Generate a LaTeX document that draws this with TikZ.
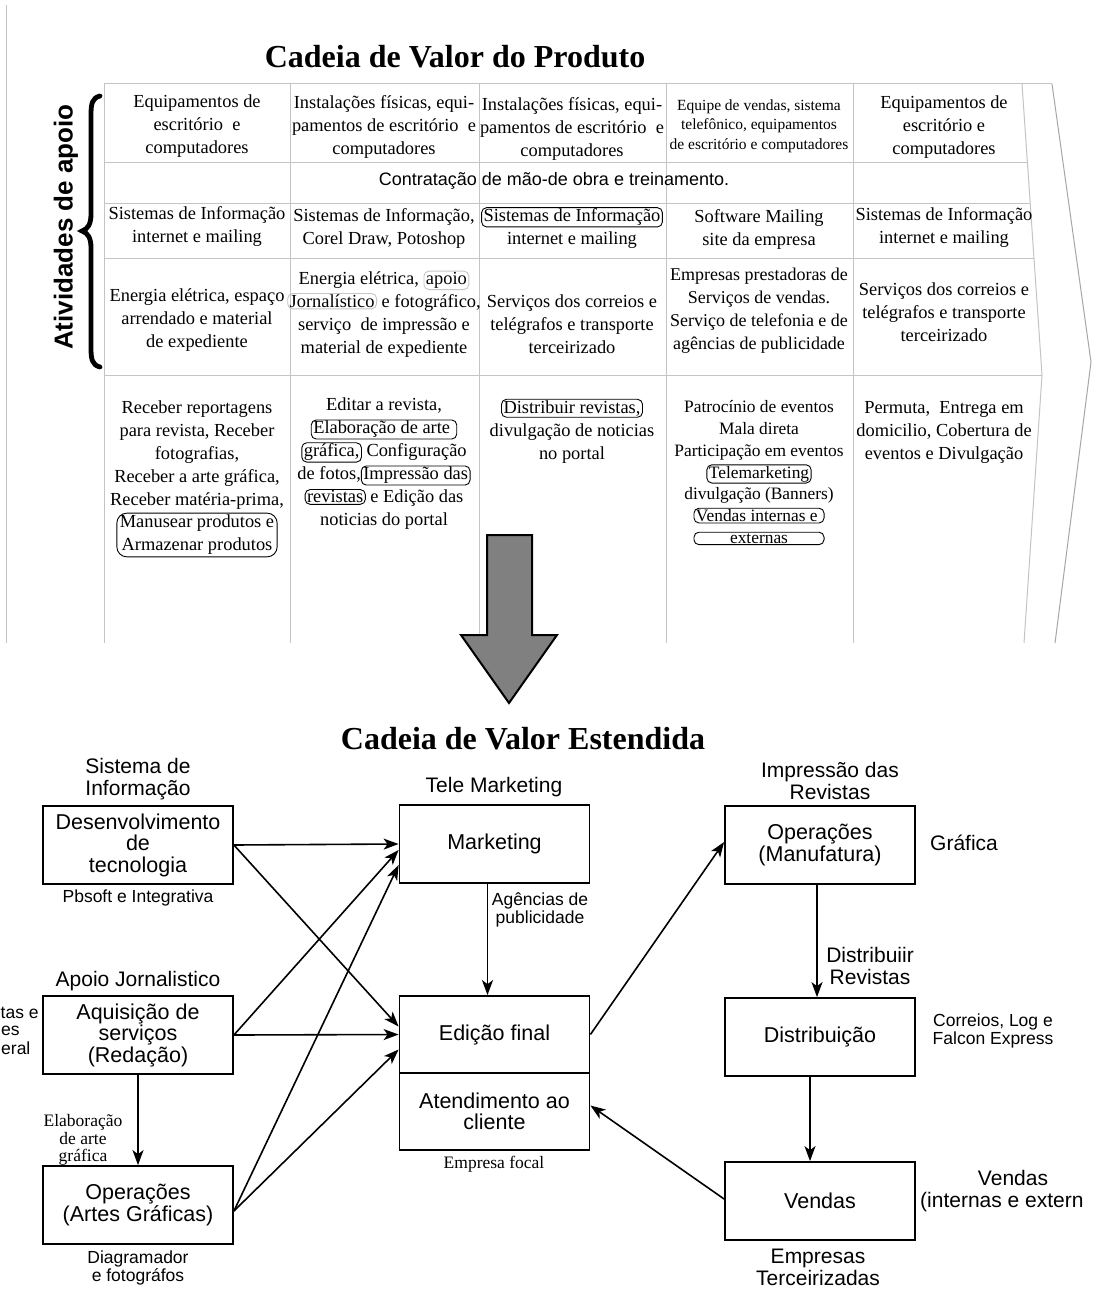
\documentclass[tikz,border=0pt]{standalone}
\usepackage{fontspec}
\setmainfont{Liberation Serif}
\setsansfont{Liberation Sans}
\usetikzlibrary{arrows.meta}
\definecolor{gridc}{RGB}{196,196,196}
\definecolor{bigarr}{RGB}{128,128,128}
\newcommand{\hlb}[2][black]{\tikz[baseline=(hlbx.base)]\node[draw=#1,line width=0.9pt,rounded corners=5pt,inner xsep=2pt,inner ysep=1.2pt,anchor=base,outer sep=0pt](hlbx){#2};}
\tikzset{
  tline/.style={draw=gridc,line width=1pt},
  cell/.style={font=\fontsize{18.4}{23}\selectfont,align=center,inner sep=0pt},
  cellsm/.style={font=\fontsize{15.5}{19.5}\selectfont,align=center,inner sep=0pt},
  cellmd/.style={font=\fontsize{17.4}{21.7}\selectfont,align=center,inner sep=0pt},
  ttl/.style={font=\bfseries\fontsize{32}{36}\selectfont,inner sep=0pt},
  bx/.style={draw,line width=1.8pt,minimum width=190pt,minimum height=78pt,inner sep=2pt,align=center,font=\sffamily\fontsize{21.5}{21.5}\selectfont},
  lbl/.style={align=center,inner sep=0pt,font=\sffamily\fontsize{21}{22}\selectfont},
  sml/.style={align=center,inner sep=0pt,font=\sffamily\fontsize{17.5}{18}\selectfont},
  ser/.style={align=center,inner sep=0pt,font=\fontsize{17.5}{17.5}\selectfont},
  arr/.style={line width=1.6pt,-{Stealth[length=15pt,width=11pt,inset=4pt]}}
}
\begin{document}
\begin{tikzpicture}[x=1pt,y=-1pt]
\useasboundingbox[fill=white] (0,0) rectangle (1092,1300);

% ---------- top table ----------
\node[ttl] (t1) at (455,57) {Cadeia de Valor do Produto};

\draw[tline] (6,5) -- (6,643);
% chevron
\draw[tline] (104,84) -- (1052,84);
\draw[tline] (1022,84) -- (1042,375) -- (1024,643);
\draw[draw=gray!70,line width=1pt] (1052,84) -- (1091,362) -- (1055,643);
\draw[tline] (104,163) -- (1027.4,163);
\draw[tline] (104,203) -- (1030.2,203);
\draw[tline] (104,258) -- (1034,258);
\draw[tline] (104,375) -- (1042,375);
\foreach \cx in {104,290,479,666,853} \draw[tline] (\cx,84) -- (\cx,643);

% brace and side label
\draw[line width=4.8pt,line cap=round] (100,96) .. controls (92,98) and (91,104) .. (91,115) -- (91,214) .. controls (91,224) and (88,229) .. (82,231) .. controls (88,233) and (91,238) .. (91,248) -- (91,348) .. controls (91,359) and (92,365) .. (100,367);
\node[rotate=90,inner sep=0pt,font=\sffamily\bfseries\fontsize{26}{28}\selectfont] (apoio) at (66,227) {Atividades de apoio};

% row 1
\node[cell] (r1c1) at (197,126) {Equipamentos de\\escritório~ e\\computadores};
\node[cell] (r1c2) at (384,127) {Instalações físicas, equi-\\pamentos de escritório~ e\\computadores};
\node[cell] (r1c3) at (572,129) {Instalações físicas, equi-\\pamentos de escritório~ e\\computadores};
\node[cellsm] (r1c4) at (759,126) {Equipe de vendas, sistema\\telefônico, equipamentos\\de escritório e computadores};
\node[cell] (r1c5) at (944,127) {Equipamentos de\\escritório e\\computadores};
% row 2
\node[inner sep=0pt,font=\sffamily\fontsize{18}{20}\selectfont] (r2) at (554,181) {Contratação de mão-de obra e treinamento.};
% row 3
\node[cell] (r3c1) at (197,227) {Sistemas de Informação\\internet e mailing};
\node[cell] (r3c2) at (384,228) {Sistemas de Informação,\\Corel Draw, Potoshop};
\node[cell] (r3c3) at (572,228) {\hlb{Sistemas de Informação}\\internet e mailing};
\node[cell] (r3c4) at (759,229) {Software Mailing\\site da empresa};
\node[cell] (r3c5) at (944,228) {Sistemas de Informação\\internet e mailing};
% row 4
\node[cell] (r4c1) at (197,320) {Energia elétrica, espaço\\arrendado e material\\de expediente};
\node[cell] (r4c2) at (384,314) {Energia elétrica, \hlb[gray!45]{apoio}\\\hlb[gray!45]{Jornalístico} e fotográfico,\\serviço~ de impressão e\\material de expediente};
\node[cell] (r4c3) at (572,324) {Serviços dos correios e\\telégrafos e transporte\\terceirizado};
\node[cell,font=\fontsize{18}{23}\selectfont] (r4c4) at (759,311) {Empresas prestadoras de\\Serviços de vendas.\\Serviço de telefonia e de\\agências de publicidade};
\node[cell] (r4c5) at (944,312) {Serviços dos correios e\\telégrafos e transporte\\terceirizado};
% row 5
\node[cell] (r5c1) at (197,455) {Receber reportagens\\para revista, Receber\\fotografias,\\Receber a arte gráfica,\\Receber matéria-prima,};
\node[cell,draw,line width=0.9pt,rounded corners=10pt,inner xsep=3pt,inner ysep=2pt] (r5c1b) at (197,535) {Manusear produtos e\\Armazenar produtos};
\node[cell] (r5c2) at (384,464) {Editar a revista,\\\hlb{Elaboração de arte~}\\\hlb{gráfica,}~Configuração\\de fotos,\hlb{Impressão das}\\\hlb{revistas}~e Edição das\\noticias do portal};
\node[cell] (r5c3) at (572,431) {\hlb{Distribuir revistas,}\\divulgação de noticias\\no portal};
\node[cellmd] (r5c4) at (759,473) {Patrocínio de eventos\\Mala direta\\Participação em eventos\\\hlb{Telemarketing}\\divulgação (Banners)\\\hlb{Vendas internas e~}\\\hlb{\ooalign{\hfil externas\hfil\cr\phantom{Vendas internas e~}\cr}}};
\node[cell] (r5c5) at (944,432) {Permuta,~ Entrega em\\domicilio, Cobertura de\\eventos e Divulgação};

% big arrow
\draw[fill=bigarr,line width=2pt,line join=miter] (487,535) -- (532,535) -- (532,635) -- (557,635) -- (509,703) -- (461,635) -- (487,635) -- cycle;

% ---------- bottom diagram ----------
\node[ttl] (t2) at (523,739) {Cadeia de Valor Estendida};

\node[bx] (dev) at (138,845) {Desenvolvimento\\de\\tecnologia};
\node[bx] (aqu) at (138,1035) {Aquisição de\\serviços\\(Redação)};
\node[bx] (art) at (138,1205) {Operações\\(Artes Gráficas)};
\node[bx] (mkt) at (494.5,844) {Marketing};
\node[bx,minimum height=77pt] (edi) at (494.5,1034.5) {Edição final};
\node[bx,minimum height=77pt] (ate) at (494.5,1111.5) {Atendimento ao\\cliente};
\node[bx] (opm) at (820,845) {Operações\\(Manufatura)};
\node[bx] (dis) at (820,1037) {Distribuição};
\node[bx] (ven) at (820,1201) {Vendas};

% labels
\node[lbl] (lsi) at (138,779) {Sistema de\\Informação};
\node[sml] (lpb) at (138,898) {Pbsoft e Integrativa};
\node[lbl] (laj) at (138,981) {Apoio Jornalistico};
\node[ser] (lel) at (83,1140) {Elaboração\\de arte\\gráfica};
\node[sml] (ldi) at (138,1268) {Diagramador\\e fotográfos};
\node[sml,anchor=west] (fr1) at (0.5,1013) {tas e};
\node[sml,anchor=west] (fr2) at (1,1031) {es};
\node[sml,anchor=west] (fr3) at (1,1048) {eral};
\node[lbl] (ltm) at (494,787) {Tele Marketing};
\node[sml] (lag) at (540,910) {Agências de\\publicidade};
\node[ser] (lef) at (494,1164) {Empresa focal};
\node[lbl] (lim) at (830,781) {Impressão das\\Revistas};
\node[lbl] (lgr) at (964,843) {Gráfica};
\node[lbl] (ldr) at (870,966) {Distribuiir\\Revistas};
\node[sml] (lco) at (993,1031) {Correios, Log e\\Falcon Express};
\node[lbl] (lve) at (1013,1178) {Vendas};
\node[lbl,anchor=west] (lie) at (920,1202) {(internas e extern};
\node[lbl] (lem) at (818,1267) {Empresas\\Terceirizadas};

% connectors
\draw[arr] (dev.east) -- (mkt.west);
\draw[arr] (dev.east) -- ([yshift=8pt]edi.west);
\draw[arr] (aqu.east) -- ([yshift=-6pt]mkt.west);
\draw[arr] (aqu.east) -- (edi.west);
\draw[arr] ([yshift=-6pt]art.east) -- ([yshift=-21pt]mkt.west);
\draw[arr] ([yshift=-6pt]art.east) -- ([yshift=-15pt]edi.west);
\draw[arr] (aqu.south) -- (art.north);
\draw[arr] ([xshift=-7pt]mkt.south) -- ([xshift=-7pt]edi.north);
\draw[arr] (edi.east) -- ([yshift=3pt]opm.west);
\draw[arr] ([xshift=-3pt]opm.south) -- ([xshift=-3pt]dis.north);
\draw[arr] ([xshift=-10pt]dis.south) -- ([xshift=-10pt]ven.north);
\draw[arr] ([yshift=2pt]ven.west) -- ([yshift=6pt]ate.east);
\end{tikzpicture}
\end{document}
